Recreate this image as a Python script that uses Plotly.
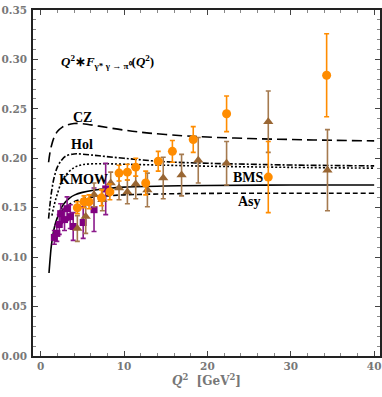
import plotly.graph_objects as go

# CLEO (purple squares)
cleo_q2 = [1.64, 1.94, 2.23, 2.40, 2.86, 3.17, 3.55, 3.90, 5.10, 6.40, 7.80]
cleo_val = [0.120, 0.124, 0.133, 0.144, 0.138, 0.149, 0.141, 0.131, 0.135, 0.148, 0.169]
cleo_err = [0.007, 0.008, 0.010, 0.010, 0.011, 0.012, 0.012, 0.014, 0.016, 0.022, 0.026]

# BaBar (orange circles)
babar_q2 = [4.4, 5.2, 5.8, 7.3, 8.3, 9.4, 10.4, 11.4, 12.6, 14.1, 15.8, 18.3, 22.3, 27.3, 34.3]
babar_val = [0.150, 0.156, 0.156, 0.160, 0.166, 0.185, 0.186, 0.191, 0.175, 0.197, 0.207, 0.219, 0.245, 0.181, 0.284]
babar_err = [0.006, 0.006, 0.007, 0.008, 0.008, 0.008, 0.008, 0.009, 0.012, 0.010, 0.011, 0.013, 0.018, 0.036, 0.042]

# Belle (brown triangles)
belle_q2 = [4.4, 5.4, 6.4, 7.4, 8.4, 9.4, 10.4, 11.4, 12.8, 14.7, 16.9, 18.9, 22.3, 27.3, 34.4]
belle_val = [0.129, 0.141, 0.163, 0.158, 0.175, 0.170, 0.166, 0.174, 0.168, 0.180, 0.183, 0.198, 0.195, 0.237, 0.188]
belle_err = [0.013, 0.017, 0.012, 0.011, 0.011, 0.012, 0.012, 0.015, 0.017, 0.021, 0.021, 0.023, 0.022, 0.031, 0.041]

# model curves
cz_q2 = [0.95, 1.1, 1.3, 1.6, 2.0, 2.6, 3.2, 4.0, 5.0, 7.0, 10, 13, 17, 20, 25, 30, 35, 40]
cz_val = [0.196, 0.205, 0.213, 0.221, 0.227, 0.2315, 0.2338, 0.2352, 0.2350, 0.2325, 0.2285, 0.2255, 0.2228, 0.2215, 0.2200, 0.2190, 0.2182, 0.2176]

hol_q2 = [0.95, 1.1, 1.3, 1.6, 2.0, 2.5, 3.0, 4.0, 5.0, 7.0, 10, 15, 20, 25, 30, 40]
hol_val = [0.139, 0.152, 0.166, 0.180, 0.191, 0.198, 0.2022, 0.2044, 0.2042, 0.2025, 0.2000, 0.1965, 0.1950, 0.1940, 0.1932, 0.1923]

kmow_q2 = [1.35, 1.6, 2.0, 2.5, 3.0, 4.0, 5.0, 7.0, 10, 15, 20, 30, 40]
kmow_val = [0.142, 0.152, 0.164, 0.176, 0.183, 0.1905, 0.1935, 0.1945, 0.1940, 0.1930, 0.1920, 0.1908, 0.1900]

bms_q2 = [1.0, 1.15, 1.3, 1.7, 2.0, 2.7, 3.5, 4.1, 5.0, 6.5, 8.0, 10, 15, 20, 30, 40]
bms_val = [0.084, 0.100, 0.113, 0.132, 0.140, 0.153, 0.160, 0.163, 0.1655, 0.168, 0.1695, 0.1708, 0.1720, 0.1725, 0.1730, 0.1730]

asy_q2 = [2.5, 3.0, 4.0, 5.0, 6.0, 8.0, 10, 15, 20, 30, 40]
asy_val = [0.146, 0.151, 0.156, 0.159, 0.1605, 0.162, 0.163, 0.164, 0.1645, 0.1646, 0.1646]

fig = go.Figure()

curves = [
    (cz_q2, cz_val, "10px,5px"),
    (hol_q2, hol_val, "6px,2px,2px,2px"),
    (kmow_q2, kmow_val, "2px,2px"),
    (bms_q2, bms_val, "solid"),
    (asy_q2, asy_val, "5px,3px"),
]
for xs, ys, dash in curves:
    fig.add_trace(go.Scatter(x=xs, y=ys, mode="lines", line=dict(color="black", width=1.6, dash=dash, shape="spline"),
                             showlegend=False, hoverinfo="skip"))

sets = [
    (cleo_q2, cleo_val, cleo_err, "#800080", "#8b1a8b", "square", 7),
    (belle_q2, belle_val, belle_err, "#996633", "#a57a4f", "triangle-up", 9),
    (babar_q2, babar_val, babar_err, "#ff8c00", "#ff8c00", "circle", 9),
]
for xs, ys, es, col, ecol, sym, sz in sets:
    fig.add_trace(go.Scatter(x=xs, y=ys, mode="markers",
                             marker=dict(color=col, symbol=sym, size=sz),
                             error_y=dict(type="data", array=es, color=ecol, thickness=1.6, width=2.5),
                             showlegend=False))

label_font = dict(family="Liberation Serif", size=14, color="black", weight="bold")
labels = [
    (5.0, 0.2414, "CZ"),
    (5.0, 0.2136, "Hol"),
    (5.1, 0.1790, "KMOW"),
    (24.9, 0.1807, "BMS"),
    (25.0, 0.1559, "Asy"),
]
for x, y, t in labels:
    fig.add_annotation(x=x, y=y, text=t, showarrow=False, font=label_font)

fig.add_annotation(x=8.0, y=0.2976,
                   text="<i>Q</i><sup>2</sup>∗<i>F</i><sub>γ* γ → π⁰</sub>(<i>Q</i><sup>2</sup>)",
                   showarrow=False, font=dict(family="Liberation Serif", size=13, color="black", weight="bold"))

tick_font = dict(family="DejaVu Serif", size=10.5, color="#777777", weight="bold")
axis_common = dict(showgrid=False, zeroline=False, showline=True, linecolor="#222222", linewidth=1.5,
                   mirror="allticks", ticks="inside", ticklen=5, tickcolor="#444444", tickfont=tick_font,
                   automargin=False)

fig.update_xaxes(range=[-0.92, 40.7], tickvals=[0, 10, 20, 30, 40],
                 minor=dict(dtick=2, ticks="inside", ticklen=3, tickcolor="#888888"),
                 title=dict(text="<i>Q</i><sup>2</sup>  [GeV<sup>2</sup>]", standoff=4,
                            font=dict(family="DejaVu Serif", size=12, color="#777777", weight="bold")),
                 **axis_common)
fig.update_yaxes(range=[0, 0.35], tickvals=[0, 0.05, 0.10, 0.15, 0.20, 0.25, 0.30, 0.35], tickformat=".2f",
                 minor=dict(dtick=0.01, ticks="inside", ticklen=3, tickcolor="#888888"),
                 ticklabelstandoff=2, **axis_common)

fig.update_layout(width=382, height=397, margin=dict(l=33, r=2, t=10, b=41),
                  plot_bgcolor="white", paper_bgcolor="white")

# drop the default page margin so the figure sits at the window corner
fig.write_html("out.html", config={"displayModeBar": False},
               post_script="document.body.style.margin='0';")
